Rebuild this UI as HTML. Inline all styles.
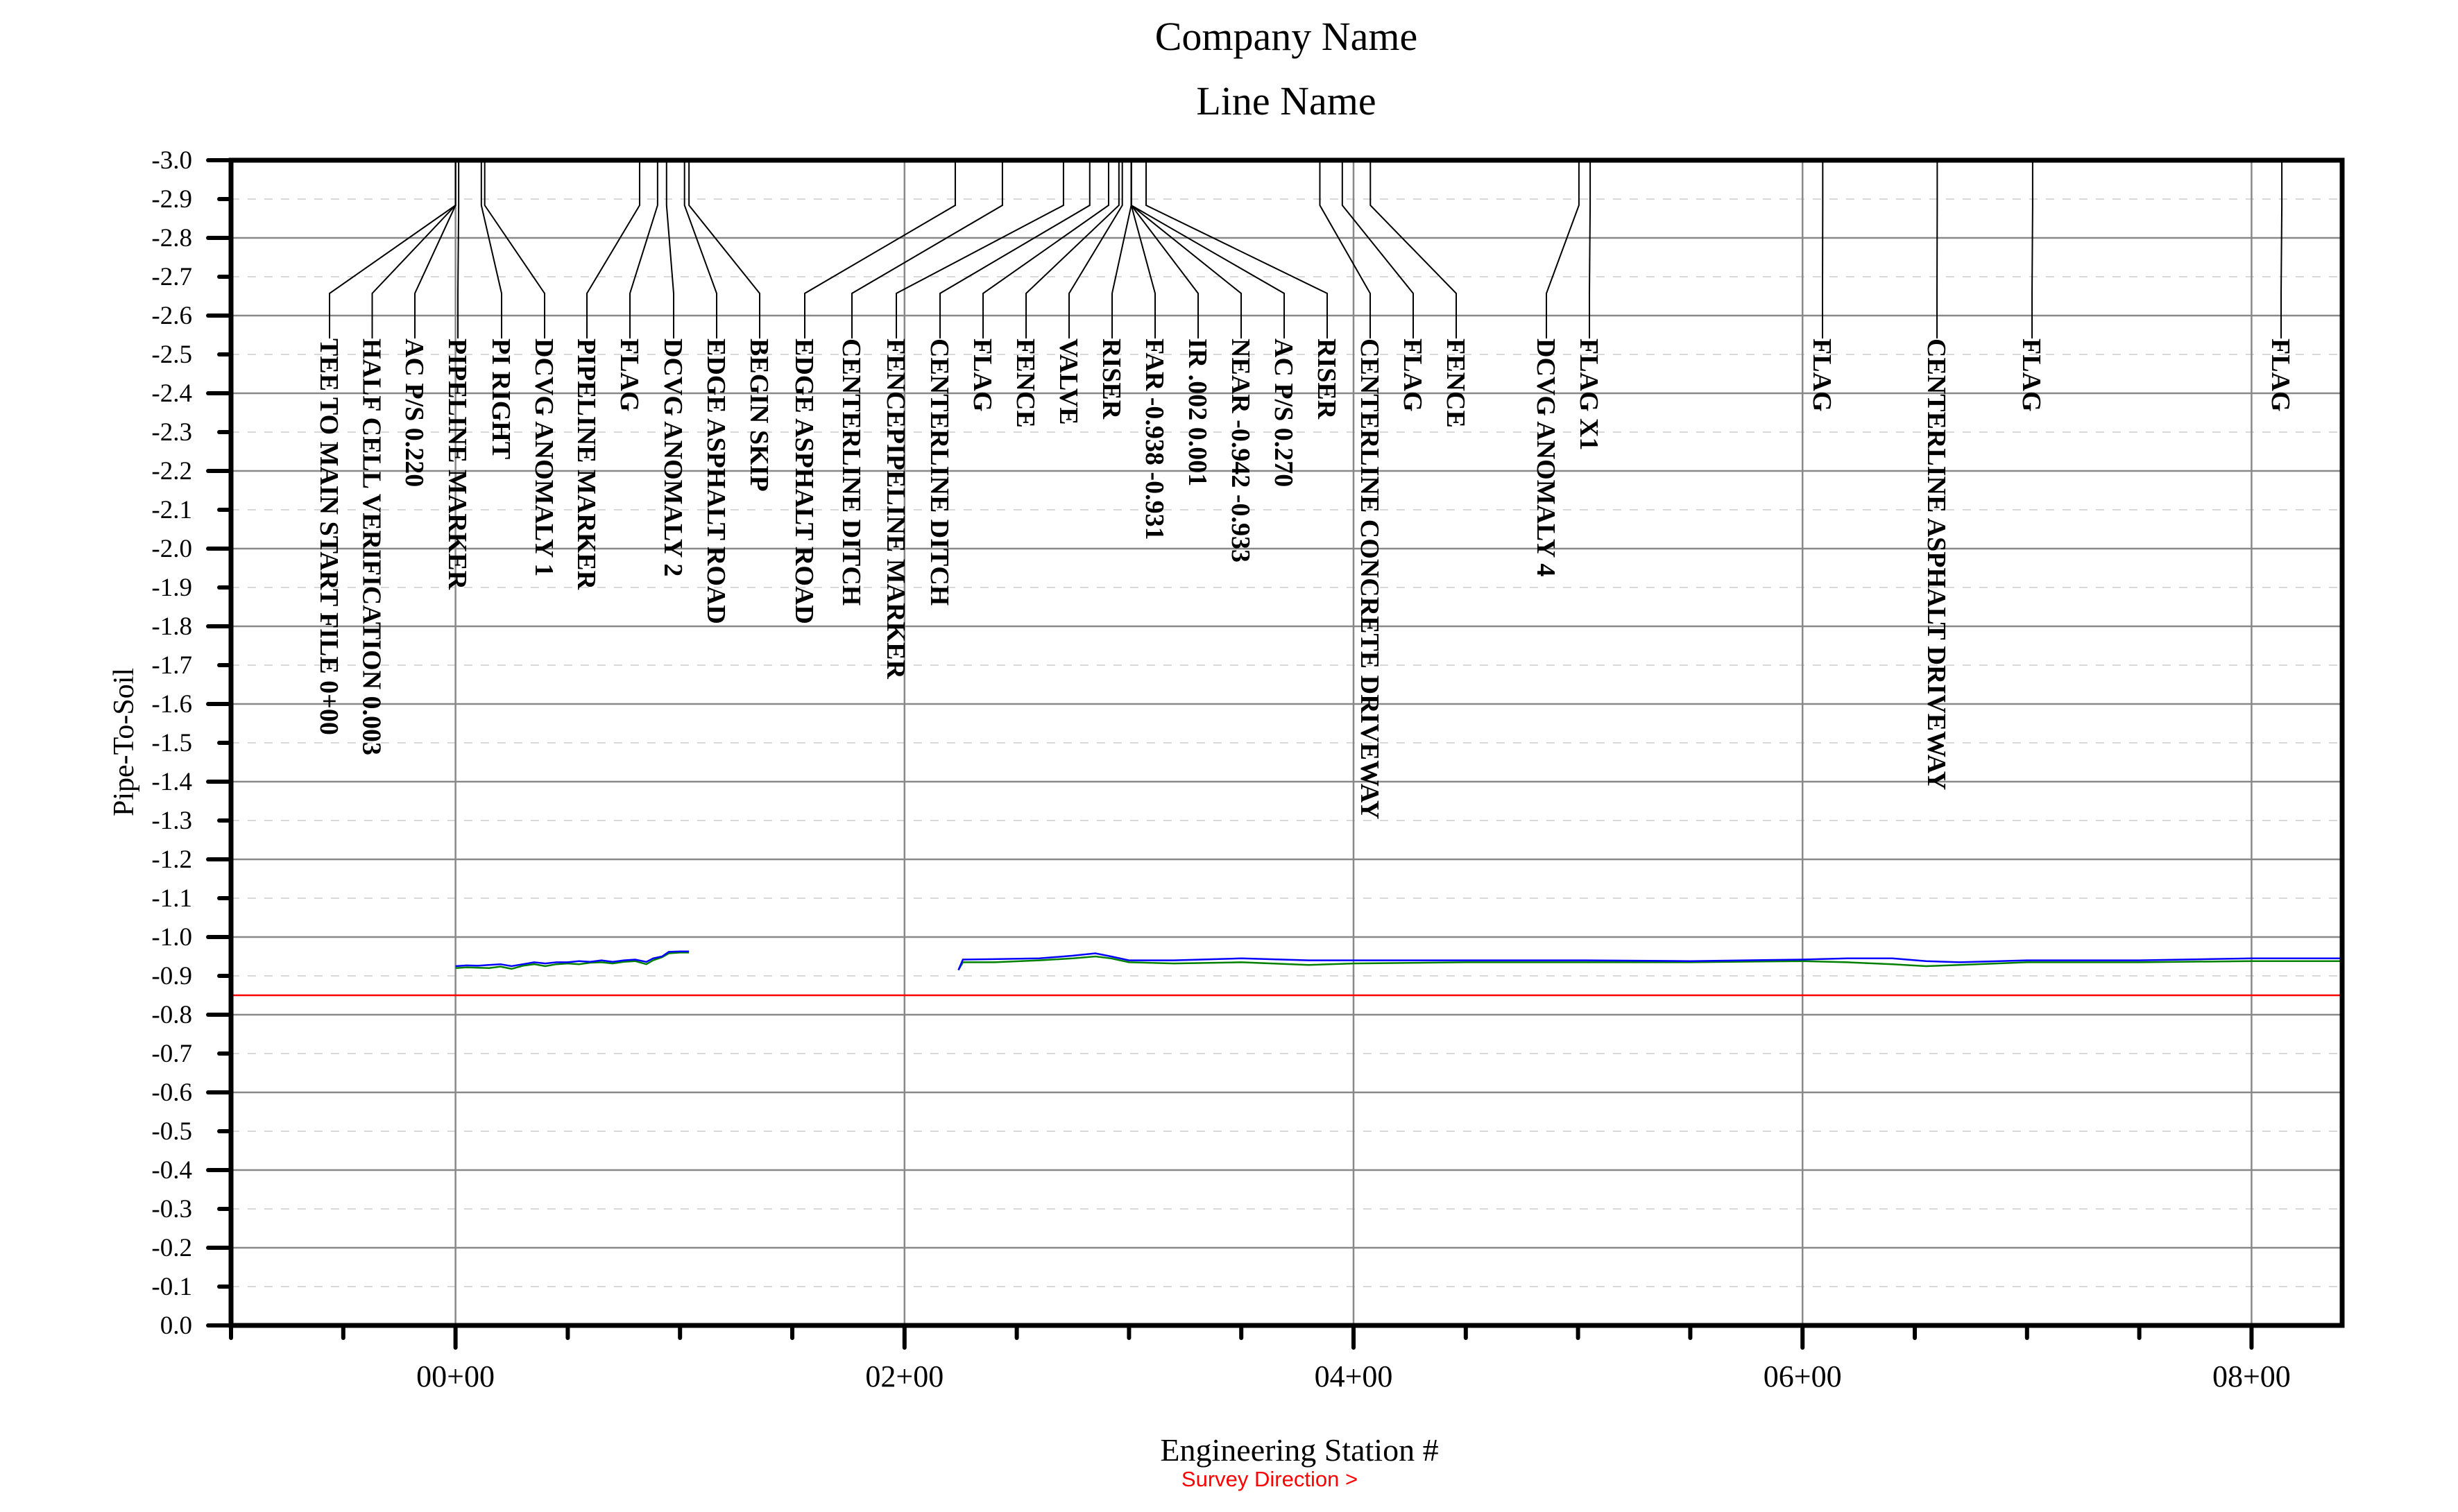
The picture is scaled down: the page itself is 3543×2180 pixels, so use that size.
<!DOCTYPE html>
<html><head><meta charset="utf-8"><style>
html,body{margin:0;padding:0;background:#fff;}
svg{display:block;}
text{font-family:"Liberation Serif","Times New Roman",serif;}
</style></head><body>
<svg id="chart" width="3543" height="2180" viewBox="0 0 3543 2180" xmlns="http://www.w3.org/2000/svg">
<rect x="0" y="0" width="3543" height="2180" fill="#fff"/>
<text x="1854" y="72" font-size="58" text-anchor="middle">Company Name</text>
<text x="1854" y="165" font-size="58" text-anchor="middle">Line Name</text>
<g id="grid"></g>
<g id="series"></g>
<g id="annot"></g>
<g id="axes"></g>
<text x="0" y="0" font-size="42" text-anchor="middle" transform="translate(192,1070) rotate(-90)">Pipe-To-Soil</text>
<text x="1873" y="2106" font-size="46" text-anchor="middle">Engineering Station #</text>
<text x="1830" y="2143" font-size="31" fill="#ff0000" text-anchor="middle" style="font-family:'Liberation Sans',sans-serif">Survey Direction &gt;</text>
</svg>
<script>
const xTickValues = [0, 200, 400, 600, 800];
const xTickLabels = ["00+00", "02+00", "04+00", "06+00", "08+00"];
const yTickValues = [-3.0,-2.9,-2.8,-2.7,-2.6,-2.5,-2.4,-2.3,-2.2,-2.1,-2.0,-1.9,-1.8,-1.7,-1.6,-1.5,-1.4,-1.3,-1.2,-1.1,-1.0,-0.9,-0.8,-0.7,-0.6,-0.5,-0.4,-0.3,-0.2,-0.1,0.0];
const criterion = -0.85;
const seg1Stations = [0, 5, 10, 15, 20, 25, 30, 35, 40, 45, 50, 55, 60, 65, 70, 75, 80, 85, 88, 92, 95, 100, 104];
const seg1Blue =     [-0.925,-0.927,-0.926,-0.928,-0.930,-0.925,-0.930,-0.935,-0.932,-0.935,-0.935,-0.938,-0.936,-0.940,-0.936,-0.940,-0.942,-0.936,-0.945,-0.950,-0.962,-0.963,-0.963];
const seg1Green =    [-0.920,-0.922,-0.921,-0.920,-0.924,-0.918,-0.926,-0.930,-0.925,-0.930,-0.932,-0.930,-0.934,-0.935,-0.932,-0.936,-0.938,-0.930,-0.940,-0.948,-0.958,-0.960,-0.960];
const seg2Stations = [224, 226, 240, 260, 275, 285, 292, 300, 320, 350, 380, 400, 450, 500, 550, 600, 620, 640, 655, 670, 700, 750, 800, 841];
const seg2Blue =     [-0.915,-0.942,-0.943,-0.945,-0.952,-0.958,-0.950,-0.940,-0.940,-0.945,-0.940,-0.940,-0.940,-0.940,-0.938,-0.942,-0.945,-0.945,-0.938,-0.935,-0.940,-0.940,-0.945,-0.945];
const seg2Green =    [-0.915,-0.935,-0.935,-0.940,-0.945,-0.950,-0.945,-0.935,-0.932,-0.935,-0.928,-0.932,-0.935,-0.935,-0.935,-0.938,-0.935,-0.930,-0.925,-0.928,-0.935,-0.935,-0.938,-0.938];
const annotText = ["TEE TO MAIN START FILE 0+00","HALF CELL VERIFICATION 0.003","AC P/S 0.220","PIPELINE MARKER","PI RIGHT","DCVG ANOMALY 1","PIPELINE MARKER","FLAG","DCVG ANOMALY 2","EDGE ASPHALT ROAD","BEGIN SKIP","EDGE ASPHALT ROAD","CENTERLINE DITCH","FENCEPIPELINE MARKER","CENTERLINE DITCH","FLAG","FENCE","VALVE","RISER","FAR -0.938 -0.931","IR  .002 0.001","NEAR -0.942 -0.933","AC P/S 0.270","RISER","CENTERLINE CONCRETE DRIVEWAY","FLAG","FENCE","DCVG ANOMALY 4","FLAG X1","FLAG","CENTERLINE ASPHALT DRIVEWAY","FLAG","FLAG"];
const annotStations = [0,0,0,1.4,11.5,13,82,90,94,102,104,222.6,243.6,270.8,282.5,290.9,295.5,297,301,301,301,301,301,307.6,385,395,407.5,500.4,505.4,609,660,702.5,813.5];
const annotSlotX = [475,536.5,598,660,723,785,846,908,971,1033,1095,1160,1228,1292,1355,1417,1479,1541,1603,1665,1727,1789,1851,1913,1975,2037,2099,2229,2291,2627,2792,2929,3288];

const NS = "http://www.w3.org/2000/svg";
const L = 333, R = 3376, T = 231, B = 1911;
const xMin = -100, xMax = (R - L) / 3.236 - 100;
function xs(s){ return L + (s - xMin) / (xMax - xMin) * (R - L); }
function ys(v){ return B + (v / 3.0) * (B - T); }
function mk(tag, attrs, parent){
  const e = document.createElementNS(NS, tag);
  for (const k in attrs) e.setAttribute(k, attrs[k]);
  parent.appendChild(e); return e;
}
const grid = document.getElementById('grid');
const axes = document.getElementById('axes');
const series = document.getElementById('series');
const annot = document.getElementById('annot');

yTickValues.forEach((v, i) => {
  const y = ys(v);
  if (i === 0 || i === yTickValues.length - 1) return;
  const major = i % 2 === 0;
  const ln = mk('line', {x1: L, x2: R, y1: y, y2: y, stroke: major ? '#888' : '#ccc', 'stroke-width': major ? 2.5 : 1.5, 'stroke-dasharray': major ? '' : '12 12'}, grid);
  
  
});
xTickValues.forEach(s => {
  const x = xs(s);
  const ln = mk('line', {x1: x, x2: x, y1: T, y2: B, stroke: '#888', 'stroke-width': 2.5}, grid);
  
  
});
const crit = mk('line', {x1: L, x2: R, y1: ys(criterion), y2: ys(criterion), stroke: '#ff0000', 'stroke-width': 2.5}, series);



function drawSeries(st, vals, color, name){
  const pts = st.map((s, i) => xs(s).toFixed(1) + ',' + ys(vals[i]).toFixed(1)).join(' ');
  const pl = mk('polyline', {points: pts, fill: 'none', stroke: color, 'stroke-width': 2.5, 'stroke-linejoin': 'miter'}, series);
  
  
}
drawSeries(seg1Stations, seg1Green, '#008000', 'off-potential-series-seg1');
drawSeries(seg1Stations, seg1Blue, '#0000ff', 'on-potential-series-seg1');
drawSeries(seg2Stations, seg2Green, '#008000', 'off-potential-series-seg2');
drawSeries(seg2Stations, seg2Blue, '#0000ff', 'on-potential-series-seg2');

const bend1 = 296, bend2 = 423, textTop = 488;
annotText.forEach((t, i) => {
  const sx = xs(annotStations[i]);
  const lx = annotSlotX[i];
  const pl = mk('polyline', {points: `${sx},${T} ${sx},${bend1} ${lx},${bend2} ${lx},${textTop}`, fill: 'none', stroke: '#000', 'stroke-width': 2}, annot);
  
  
  const tx = mk('text', {x: 0, y: 13, 'font-size': 38, 'font-weight': 'bold', transform: `translate(${lx},${textTop}) rotate(90)`}, annot);
  tx.textContent = t;
  
  
});

const border = mk('rect', {x: L, y: T, width: R - L, height: B - T, fill: 'none', stroke: '#000', 'stroke-width': 7}, axes);



yTickValues.forEach((v, i) => {
  const y = ys(v);
  const major = i % 2 === 0;
  const tk = mk('line', {x1: L - (major ? 33 : 17), x2: L, y1: y, y2: y, stroke: '#000', 'stroke-width': 6, 'stroke-linecap': 'round'}, axes);
  
  
  const lb = mk('text', {x: 277, y: y + 12, 'font-size': 37, 'text-anchor': 'end'}, axes);
  lb.textContent = v.toFixed(1);
  
  
});
for (let s = xMin; s <= xMax; s += 50) {
  const x = xs(s);
  const major = (s % 200 === 0);
  const tk = mk('line', {x1: x, x2: x, y1: B, y2: B + (major ? 32 : 18), stroke: '#000', 'stroke-width': 6, 'stroke-linecap': 'round'}, axes);
  
  
}
xTickValues.forEach((s, i) => {
  const lb = mk('text', {x: xs(s), y: 1999, 'font-size': 44, 'text-anchor': 'middle'}, axes);
  lb.textContent = xTickLabels[i];
  
  
});
</script>
</body></html>
